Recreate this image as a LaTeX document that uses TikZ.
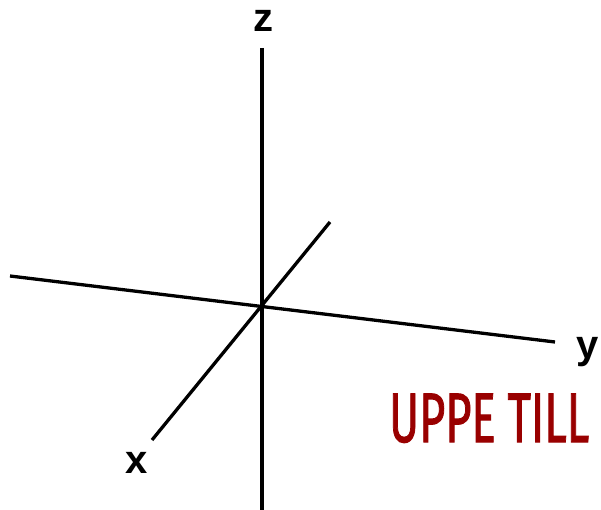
\documentclass[tikz,border=0pt]{standalone}
\usepackage{fontspec}
\setmainfont{Liberation Sans}
\newfontfamily\titlefont{Fira Sans}
\definecolor{uppred}{HTML}{990000}
\begin{document}
\begin{tikzpicture}[x=1pt, y=-1pt,
    axis/.style={line width=3.3pt},
    lbl/.style={font=\fontsize{40}{40}\selectfont\bfseries, inner sep=0pt, anchor=base}]
    \useasboundingbox (0,0) rectangle (601,510);
    % axis ends
    \coordinate (o) at (262,307);
    \coordinate (ztop) at (262,48);
    \coordinate (zbot) at (262,510);
    \coordinate (yleft) at (10,276);
    \coordinate (yright) at (555,342);
    \coordinate (xfar) at (330,222);
    \coordinate (xnear) at (152,440);
    \draw[axis] (ztop) -- (zbot);
    \draw[axis] (yleft) -- (yright);
    \draw[axis] (xfar) -- (xnear);
    % labels
    \node[lbl] (zl) at (263,32) {z};
    \node[lbl] (yl) at (588,358) {y};
    \node[lbl] (xl) at (137,473) {x};
    \node[inner sep=0pt, anchor=base west, text=uppred,
        font=\titlefont\fontsize{70}{70}\selectfont\mdseries] (title) at (389,442)
        {\scalebox{0.645}[1]{\addfontfeatures{FakeBold=1.6}UPPE TILL}};
\end{tikzpicture}
\end{document}
